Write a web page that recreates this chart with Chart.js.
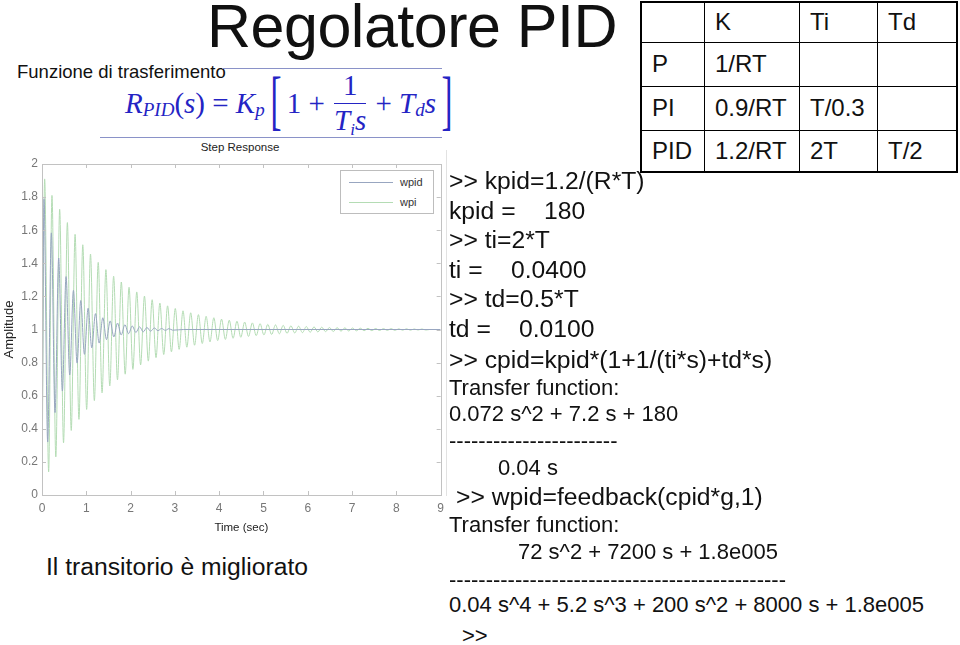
<!DOCTYPE html>
<html>
<head>
<meta charset="utf-8">
<title>Regolatore PID</title>
<script src="https://cdn.jsdelivr.net/npm/chart.js@4/dist/chart.umd.min.js"></script>
<style>
  body { margin: 0; width: 960px; height: 645px; position: relative; overflow: hidden; background: #fff;
         font-family: "Liberation Sans", Arial, sans-serif; color: #111; }
  .t { position: absolute; white-space: pre; line-height: 1; }
  .cmd { font-size: 24.7px; }
  .out { font-size: 22px; }
  #titolo { left: 207px; top: -4px; font-size: 61px; letter-spacing: -0.5px; }
  #funz { left: 17px; top: 63px; font-size: 18.5px; }
  .rule { position: absolute; height: 1px; background: #8a92c8; }
  #formula { position: absolute; left: 125px; top: 72px; height: 62px; display: flex; align-items: center;
             font-family: "Liberation Serif", "Times New Roman", serif; color: #2424c4; font-size: 29px; white-space: pre; }
  #formula i { font-style: italic; }
  #formula .sub { font-style: italic; font-size: 19px; position: relative; top: 7px; }
  #formula .br { font-size: 66px; font-weight: 100; transform: scaleX(0.5); display: inline-block; position: relative; top: -3px; }
  #formula .frac { display: inline-flex; flex-direction: column; align-items: center; margin: 0 2px; }
  #formula .frac .num { line-height: 1; padding-bottom: 3px; }
  #formula .frac .den { line-height: 1; border-top: 1.5px solid #2424c4; padding-top: 2px; }
  #stepTitle { left: 240px; top: 142px; font-size: 11.5px; transform: translateX(-50%); color: #222; }
  #wrap { position: absolute; left: 0; top: 150px; width: 450px; height: 390px; }
  #legend { position: absolute; left: 340px; top: 170px; width: 92px; height: 42px; border: 1px solid #bdbdbd;
            background: #fff; font-size: 11px; color: #333; }
  #legend .row { position: absolute; left: 8px; height: 14px; display: flex; align-items: center; }
  #legend .ln { width: 44px; height: 1px; margin-right: 7px; }
  #edge { position: absolute; left: 446px; top: 150px; width: 1px; height: 346px; background: #e2e2e2; }
  #tbl { position: absolute; left: 640px; top: 1px; border-collapse: collapse; border: 2px solid #000; font-size: 24px; }
  #tbl td { border: 1px solid #000; padding: 0 0 0 10px; vertical-align: middle; }
  #migl { left: 46px; top: 555px; font-size: 24.7px; }
</style>
</head>
<body>

<div class="t" id="titolo">Regolatore PID</div>
<div class="t" id="funz">Funzione di trasferimento</div>
<div class="rule" style="left:222px; top:68px; width:220px;"></div>
<div class="rule" style="left:100px; top:137px; width:342px;"></div>
<div id="formula"><i>R</i><span class="sub">PID</span>(<i>s</i>) = <i>K</i><span class="sub">p</span> <span class="br">[</span>1 + <span class="frac"><span class="num">1</span><span class="den"><i>T</i><span class="sub" style="font-size:17px;top:5px">i</span><i>s</i></span></span> + <i>T</i><span class="sub">d</span><i>s</i><span class="br">]</span></div>

<div class="t" id="stepTitle">Step Response</div>
<div id="edge"></div>
<div id="wrap"><canvas id="chart" width="450" height="390"></canvas></div>
<div id="legend"></div>

<table id="tbl">
  <tr style="height:40px"><td style="width:52px"></td><td style="width:84px">K</td><td style="width:67px">Ti</td><td style="width:68px">Td</td></tr>
  <tr style="height:44px"><td>P</td><td>1/RT</td><td></td><td></td></tr>
  <tr style="height:44px"><td>PI</td><td>0.9/RT</td><td>T/0.3</td><td></td></tr>
  <tr style="height:42px"><td>PID</td><td>1.2/RT</td><td>2T</td><td>T/2</td></tr>
</table>

<div class="t cmd" style="left:449px; top:169px;">&gt;&gt; kpid=1.2/(R*T)</div>
<div class="t cmd" style="left:449px; top:199px;">kpid =</div>
<div class="t cmd" style="left:544px; top:199px;">180</div>
<div class="t cmd" style="left:449px; top:228px;">&gt;&gt; ti=2*T</div>
<div class="t cmd" style="left:449px; top:258px;">ti =</div>
<div class="t cmd" style="left:511px; top:258px;">0.0400</div>
<div class="t cmd" style="left:449px; top:287px;">&gt;&gt; td=0.5*T</div>
<div class="t cmd" style="left:449px; top:317px;">td =</div>
<div class="t cmd" style="left:519px; top:317px;">0.0100</div>
<div class="t cmd" style="left:449px; top:348px;">&gt;&gt; cpid=kpid*(1+1/(ti*s)+td*s)</div>
<div class="t out" style="left:449px; top:377px;">Transfer function:</div>
<div class="t out" style="left:449px; top:403px;">0.072 s^2 + 7.2 s + 180</div>
<div class="t out" style="left:449px; top:430px;">-----------------------</div>
<div class="t out" style="left:498px; top:457px;">0.04 s</div>
<div class="t cmd" style="left:456px; top:485px;">&gt;&gt; wpid=feedback(cpid*g,1)</div>
<div class="t out" style="left:449px; top:514px;">Transfer function:</div>
<div class="t out" style="left:518px; top:541px;">72 s^2 + 7200 s + 1.8e005</div>
<div class="t out" style="left:449px; top:569px;">----------------------------------------------</div>
<div class="t out" style="left:449px; top:594px;">0.04 s^4 + 5.2 s^3 + 200 s^2 + 8000 s + 1.8e005</div>
<div class="t out" style="left:462px; top:625px;">&gt;&gt;</div>

<div class="t" id="migl">Il transitorio è migliorato</div>

<script>
// ─── dati ───────────────────────────────────────────
const seriesNames = ['wpid', 'wpi'];
const seriesColors = ['#98a6c0', '#b4dcb4'];

const xTicks = [0, 1, 2, 3, 4, 5, 6, 7, 8, 9];
const yTicks = [0, 0.2, 0.4, 0.6, 0.8, 1, 1.2, 1.4, 1.6, 1.8, 2];

// wpid: picchi e valli (tempo in s)
const wpidT = [0, 0.045, 0.128, 0.211, 0.294, 0.377, 0.46, 0.543, 0.626, 0.709, 0.792,
  0.875, 0.958, 1.041, 1.124, 1.207, 1.29, 1.373, 1.456, 1.539, 1.622,
  1.705, 1.788, 1.871, 1.954, 2.037, 2.12, 2.203, 2.286, 2.369, 2.452,
  2.535, 2.618, 2.701, 2.784, 2.867, 2.95, 3.2, 9];
const wpidY = [0, 1.79, 0.32, 1.584, 0.498, 1.432, 0.628, 1.32, 0.725, 1.236, 0.797,
  1.175, 0.85, 1.129, 0.889, 1.096, 0.918, 1.071, 0.939, 1.052, 0.955,
  1.039, 0.967, 1.029, 0.975, 1.021, 0.982, 1.016, 0.986, 1.012, 0.99,
  1.009, 0.993, 1.006, 0.995, 1.005, 0.996, 1, 1];

// wpi: picchi e valli (tempo in s)
const wpiT = [0, 0.06, 0.15, 0.225, 0.312, 0.399, 0.486, 0.573, 0.66, 0.747, 0.834,
  0.921, 1.008, 1.095, 1.182, 1.269, 1.356, 1.443, 1.53, 1.617, 1.704,
  1.791, 1.878, 1.965, 2.052, 2.139, 2.226, 2.313, 2.4, 2.487, 2.574,
  2.661, 2.748, 2.835, 2.922, 3.009, 3.096, 3.183, 3.27, 3.357, 3.444,
  3.531, 3.618, 3.705, 3.792, 3.879, 3.966, 4.053, 4.14, 4.227, 4.314,
  4.401, 4.488, 4.575, 4.662, 4.749, 4.836, 4.923, 5.01, 5.097, 5.184,
  5.271, 5.358, 5.445, 5.532, 5.619, 5.706, 5.793, 5.88, 5.967, 6.054,
  6.141, 6.228, 6.315, 6.402, 6.489, 6.576, 6.663, 6.75, 6.837, 6.924,
  7.011, 7.098, 7.185, 7.272, 7.359, 7.446, 7.533, 7.62, 7.707, 7.794,
  7.881, 7.968, 8.055, 8.142, 8.229, 8.316, 8.403, 8.49, 8.577, 8.664, 8.75];
const wpiY = [0, 1.91, 0.14, 1.81, 0.23, 1.726, 0.315, 1.646, 0.39, 1.575, 0.457,
  1.512, 0.517, 1.456, 0.57, 1.406, 0.617, 1.362, 0.659, 1.322, 0.696,
  1.287, 0.73, 1.255, 0.759, 1.227, 0.786, 1.202, 0.809, 1.18, 0.83,
  1.16, 0.849, 1.143, 0.865, 1.127, 0.88, 1.113, 0.893, 1.101, 0.905,
  1.09, 0.915, 1.08, 0.925, 1.071, 0.933, 1.063, 0.94, 1.056, 0.947,
  1.05, 0.953, 1.045, 0.958, 1.04, 0.963, 1.035, 0.967, 1.031, 0.97,
  1.028, 0.974, 1.025, 0.977, 1.022, 0.979, 1.02, 0.981, 1.018, 0.983,
  1.016, 0.985, 1.014, 0.987, 1.012, 0.988, 1.011, 0.99, 1.01, 0.991,
  1.009, 0.992, 1.008, 0.993, 1.007, 0.993, 1.006, 0.994, 1.005, 0.995,
  1.005, 0.995, 1.004, 0.996, 1.004, 0.996, 1.003, 0.997, 1.003, 0.997, 1];

// ─── legenda ────────────────────────────────────────
const legend = document.getElementById('legend');
seriesNames.forEach((name, i) => {
  const row = document.createElement('div');
  row.className = 'row';
  row.style.top = (4 + i * 20) + 'px';
  row.innerHTML = `<span class="ln" style="background:${seriesColors[i]}"></span><span>${name}</span>`;
  legend.appendChild(row);
});

// ─── tacche interne stile MATLAB ────────────────────
const boxTicks = {
  id: 'boxTicks',
  afterDatasetsDraw(chart) {
    const { ctx, chartArea: a, scales: { x, y } } = chart;
    ctx.save();
    ctx.strokeStyle = '#c2c2c2';
    ctx.lineWidth = 1;
    ctx.strokeRect(Math.round(a.left) + 0.5, Math.round(a.top) + 0.5,
                   Math.round(a.right - a.left), Math.round(a.bottom - a.top));
    ctx.beginPath();
    xTicks.forEach(v => {
      const px = Math.round(x.getPixelForValue(v)) + 0.5;
      ctx.moveTo(px, a.bottom); ctx.lineTo(px, a.bottom - 4);
      ctx.moveTo(px, a.top); ctx.lineTo(px, a.top + 4);
    });
    yTicks.forEach(v => {
      const py = Math.round(y.getPixelForValue(v)) + 0.5;
      ctx.moveTo(a.left, py); ctx.lineTo(a.left + 4, py);
      ctx.moveTo(a.right, py); ctx.lineTo(a.right - 4, py);
    });
    ctx.stroke();
    ctx.restore();
  }
};

const toPoints = (ts, ys) => ts.map((t, i) => ({ x: t, y: ys[i] }));

new Chart(document.getElementById('chart'), {
  type: 'line',
  data: {
    datasets: [
      { label: seriesNames[0], data: toPoints(wpidT, wpidY), borderColor: seriesColors[0],
        borderWidth: 1, pointRadius: 0, cubicInterpolationMode: 'monotone' },
      { label: seriesNames[1], data: toPoints(wpiT, wpiY), borderColor: seriesColors[1],
        borderWidth: 1, pointRadius: 0, cubicInterpolationMode: 'monotone' },
    ]
  },
  options: {
    responsive: false,
    animation: false,
    layout: { padding: { left: 0, right: 8, top: 14, bottom: 0 } },
    plugins: { legend: { display: false }, tooltip: { enabled: false } },
    scales: {
      x: {
        type: 'linear', min: 0, max: 9,
        afterBuildTicks: s => { s.ticks = xTicks.map(v => ({ value: v })); },
        afterFit: s => { s.height = 45; },
        ticks: { color: '#777', font: { size: 12, family: 'Liberation Sans' }, padding: 6, maxRotation: 0 },
        grid: { display: false, drawTicks: false },
        border: { display: false },
        title: { display: true, text: 'Time (sec)', color: '#222',
                 font: { size: 11.5, family: 'Liberation Sans' }, padding: { top: 0, bottom: 5 } }
      },
      y: {
        min: 0, max: 2,
        afterBuildTicks: s => { s.ticks = yTicks.map(v => ({ value: v })); },
        afterFit: s => { s.width = 42; },
        ticks: { color: '#777', font: { size: 12, family: 'Liberation Sans' }, padding: 4,
                 callback: v => String(+v.toFixed(1)) },
        grid: { display: false, drawTicks: false },
        border: { display: false },
        title: { display: true, text: 'Amplitude', color: '#222',
                 font: { size: 13, family: 'Liberation Sans' }, padding: { top: 2, bottom: 0 } }
      }
    }
  },
  plugins: [boxTicks]
});
</script>
</body>
</html>
